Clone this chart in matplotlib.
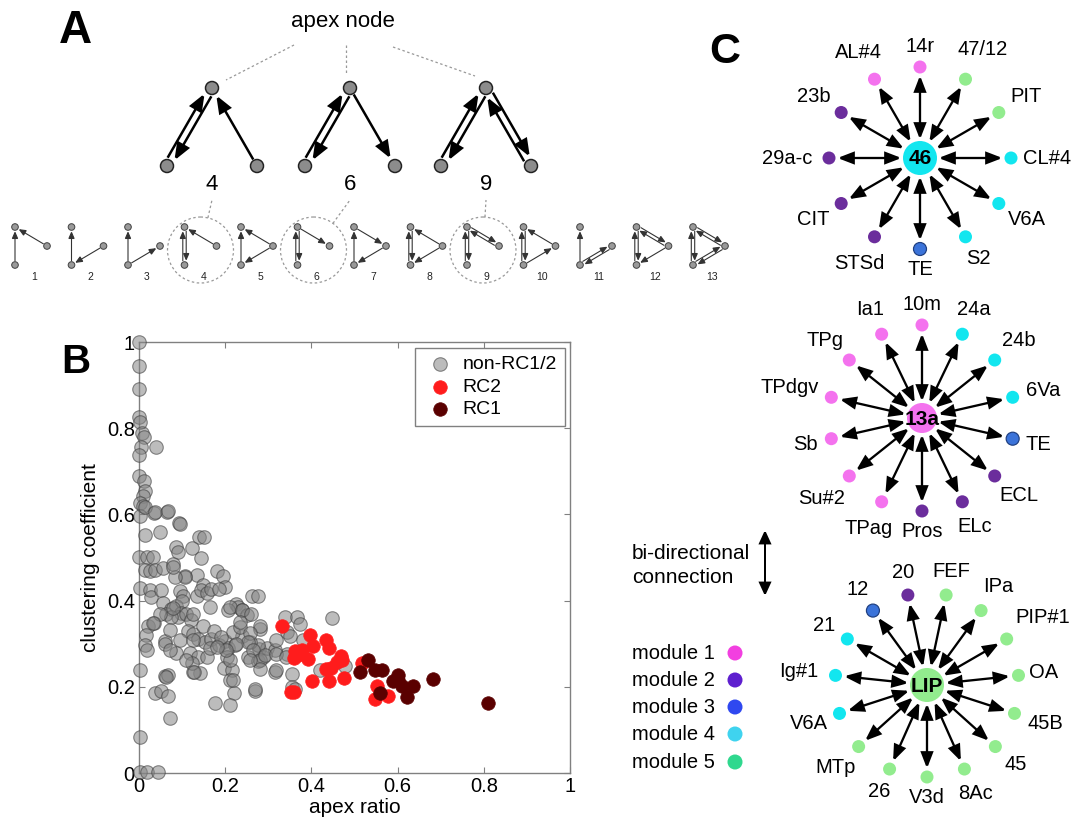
import numpy as np
import matplotlib
matplotlib.use('Agg')
import matplotlib.pyplot as plt
from matplotlib.patches import Circle, FancyArrowPatch, ArrowStyle

plt.rcParams['font.family'] = ['Liberation Sans', 'DejaVu Sans']

# ---------------- data: panel B ----------------
gray_x = [0, 0, 0, 0, 0.002, 0.007, 0.012, 0.005, 0.04, 0, 0, 0.012, 0.014, 0.01, 0.003, 0.01, 0.035, 0.066, 0.093, 0.003,
          0.014, 0.037, 0.068, 0.095, 0.049, 0.014, 0.14, 0.15, 0.087, 0.09, 0.122, 0.145, 0.0, 0.018, 0.033,
          0.014, 0.025, 0.037, 0.056, 0.08, 0.002, 0.025, 0.029, 0.052, 0.107, 0.134, 0.149, 0.18, 0.195, 0.2,
          0.095, 0.102, 0.056, 0.075, 0.085, 0.1, 0.097, 0.09, 0.11, 0.134, 0.145, 0.157, 0.168, 0.186, 0.165,
          0.12, 0.114, 0.126, 0.137, 0.152, 0.168, 0.149, 0.175, 0.063, 0.075, 0.02, 0.035, 0.017, 0.014, 0.061,
          0.072, 0.095, 0.126, 0.087, 0.118, 0.137, 0.141, 0.126, 0.122, 0.157, 0.165, 0.186, 0.2, 0.207, 0.223,
          0.238, 0.225, 0.229, 0.207, 0.24, 0.25, 0.263, 0.275, 0.204, 0.197, 0.216, 0.212, 0.22, 0.21, 0.176,
          0.254, 0.278, 0.277, 0.288, 0.296, 0.277, 0.258, 0.28, 0.316, 0.316, 0.269, 0.339, 0.366, 0.343, 0.35,
          0.343, 0.354, 0.354, 0.002, 0.061, 0.068, 0.037, 0.052, 0.068, 0.072, 0.002, 0.002, 0.018, 0.045,
          0.447, 0.42, 0.478, 0.38, 0.373, 0.218, 0.234, 0.21, 0.238, 0.234, 0.26, 0.28, 0.257, 0.253, 0.265,
          0.28, 0.292, 0.319, 0.319, 0.319, 0.342, 0.361, 0.218, 0.21, 0.268, 0.28, 0.257, 0.226, 0.11, 0.128,
          0.06, 0.071, 0.079, 0.048, 0.033, 0.018, 0.203, 0.19, 0.18, 0.106, 0.083, 0.125, 0.063, 0.079]
gray_y = [1.0, 0.945, 0.89, 0.825, 0.815, 0.788, 0.78, 0.757, 0.757, 0.738, 0.69, 0.677, 0.654, 0.643, 0.627, 0.62, 0.604, 0.606, 0.58, 0.597,
          0.618, 0.606, 0.609, 0.578, 0.56, 0.552, 0.548, 0.548, 0.525, 0.513, 0.521, 0.498, 0.502, 0.502, 0.502,
          0.471, 0.468, 0.471, 0.475, 0.486, 0.429, 0.425, 0.409, 0.424, 0.456, 0.46, 0.437, 0.468, 0.456, 0.432,
          0.422, 0.41, 0.395, 0.38, 0.388, 0.398, 0.372, 0.362, 0.37, 0.41, 0.425, 0.418, 0.428, 0.428, 0.386,
          0.355, 0.33, 0.322, 0.31, 0.305, 0.312, 0.34, 0.33, 0.37, 0.362, 0.34, 0.348, 0.32, 0.296, 0.307,
          0.332, 0.309, 0.309, 0.278, 0.278, 0.27, 0.232, 0.235, 0.255, 0.27, 0.289, 0.296, 0.307, 0.289, 0.296,
          0.319, 0.391, 0.384, 0.378, 0.378, 0.367, 0.41, 0.41, 0.27, 0.243, 0.239, 0.216, 0.185, 0.158, 0.162,
          0.27, 0.287, 0.259, 0.27, 0.289, 0.296, 0.304, 0.335, 0.285, 0.235, 0.19, 0.363, 0.363, 0.328, 0.317,
          0.275, 0.23, 0.2, 0.24, 0.224, 0.228, 0.186, 0.19, 0.178, 0.127, 0.084, 0.003, 0.003, 0.003,
          0.359, 0.239, 0.248, 0.308, 0.345, 0.327, 0.339, 0.386, 0.378, 0.351, 0.37, 0.34, 0.324, 0.305, 0.285,
          0.262, 0.273, 0.308, 0.277, 0.239, 0.27, 0.196, 0.215, 0.262, 0.196, 0.242, 0.262, 0.3, 0.262, 0.235,
          0.3, 0.285, 0.382, 0.37, 0.347, 0.285, 0.285, 0.316, 0.293, 0.455, 0.455, 0.37, 0.223, 0.478]
rc2_x = [0.331, 0.396, 0.404, 0.435, 0.441, 0.363, 0.37, 0.378, 0.36, 0.368, 0.391, 0.468, 0.47, 0.46, 0.445, 0.435,
         0.401, 0.44, 0.476, 0.352, 0.36, 0.517, 0.552, 0.548, 0.578]
rc2_y = [0.34, 0.32, 0.295, 0.309, 0.29, 0.284, 0.28, 0.285, 0.267, 0.273, 0.265, 0.272, 0.262, 0.257, 0.243, 0.242,
         0.214, 0.214, 0.22, 0.188, 0.188, 0.255, 0.202, 0.172, 0.179]
rc1_x = [0.531, 0.513, 0.548, 0.564, 0.601, 0.59, 0.61, 0.636, 0.622, 0.559, 0.682, 0.81, 0.6]
rc1_y = [0.262, 0.234, 0.239, 0.239, 0.227, 0.213, 0.202, 0.202, 0.177, 0.186, 0.218, 0.162, 0.216]
b_ticks = [0, 0.2, 0.4, 0.6, 0.8, 1]
b_ticklabels = ['0', '0.2', '0.4', '0.6', '0.8', '1']

# ---------------- data: panel A ----------------
motif_edges = {
    1: [('B', 'T'), ('R', 'T')],
    2: [('B', 'T'), ('R', 'B')],
    3: [('B', 'T'), ('B', 'R')],
    4: [('T', 'B'), ('B', 'T'), ('R', 'T')],
    5: [('B', 'T'), ('R', 'T'), ('R', 'B')],
    6: [('T', 'B'), ('B', 'T'), ('T', 'R')],
    7: [('B', 'T'), ('T', 'R'), ('R', 'B')],
    8: [('T', 'B'), ('B', 'T'), ('R', 'T'), ('R', 'B')],
    9: [('T', 'B'), ('B', 'T'), ('T', 'R'), ('R', 'T')],
    10: [('T', 'B'), ('B', 'T'), ('R', 'T'), ('B', 'R')],
    11: [('B', 'T'), ('B', 'R'), ('R', 'B')],
    12: [('T', 'B'), ('B', 'T'), ('T', 'R'), ('R', 'T'), ('R', 'B')],
    13: [('T', 'B'), ('B', 'T'), ('T', 'R'), ('R', 'T'), ('R', 'B'), ('B', 'R')],
}
apex_motifs = [4, 6, 9]
apex_edges = {
    4: [('A', 'L'), ('L', 'A'), ('R', 'A')],
    6: [('A', 'L'), ('L', 'A'), ('A', 'R')],
    9: [('A', 'L'), ('L', 'A'), ('A', 'R'), ('R', 'A')],
}

# ---------------- data: panel C ----------------
star_centers = ['46', '13a', 'LIP']
star_center_modules = [4, 1, 5]
star_labels = [
    ['14r', '47/12', 'PIT', 'CL#4', 'V6A', 'S2', 'TE', 'STSd', 'CIT', '29a-c', '23b', 'AL#4'],
    ['10m', '24a', '24b', '6Va', 'TE', 'ECL', 'ELc', 'Pros', 'TPag', 'Su#2', 'Sb', 'TPdgv', 'TPg', 'Ia1'],
    ['20', 'FEF', 'IPa', 'PIP#1', 'OA', '45B', '45', '8Ac', 'V3d', '26', 'MTp', 'V6A', 'Ig#1', '21', '12'],
]
star_modules = [
    [1, 5, 5, 4, 4, 4, 3, 2, 2, 2, 2, 1],
    [1, 4, 4, 4, 3, 2, 2, 2, 1, 1, 1, 1, 1, 1],
    [2, 5, 5, 5, 5, 5, 5, 5, 5, 5, 5, 4, 4, 4, 3],
]
module_names = ['module 1', 'module 2', 'module 3', 'module 4', 'module 5']

node_colors = {1: '#f472ee', 2: '#6b2d9c', 3: '#3b73d9', 4: '#12e6ef', 5: '#92ec8e'}
legend_colors = ['#f23fe0', '#5e1fcf', '#2f48f0', '#3fd3ef', '#2fd88e']

# ---------------- figure ----------------
W, H = 1076, 822
fig = plt.figure(figsize=(W / 100, H / 100), dpi=100)
ov = fig.add_axes([0, 0, 1, 1])
ov.set_xlim(0, W)
ov.set_ylim(H, 0)
ov.axis('off')
PT = 0.72


def arrow(p, q, style='-|>', lw=2.0, hl=12, hw=5, color='k', z=3):
    st = ArrowStyle(style, head_length=hl * PT, head_width=hw * PT)
    ov.add_patch(FancyArrowPatch(p, q, arrowstyle=st, mutation_scale=1, lw=lw * PT,
                                 color=color, shrinkA=0, shrinkB=0, zorder=z,
                                 joinstyle='miter', capstyle='butt'))


def node(c, r, fc, ec='none', lw=0, z=4):
    ov.add_patch(Circle(c, r, fc=fc, ec=ec, lw=lw * PT, zorder=z))


def draw_graph(pos, edges, r, lw, hl, hw, off, color, gap0=1.0, gap1=1.5):
    es = set(edges)
    for (u, v) in edges:
        P = np.array(pos[u], float)
        Q = np.array(pos[v], float)
        d = (Q - P) / np.linalg.norm(Q - P)
        o = np.array([d[1], -d[0]]) * (off if (v, u) in es else 0)
        arrow(P + d * (r + gap0) + o, Q - d * (r + gap1) + o, lw=lw, hl=hl, hw=hw, color=color)


# ---- Panel A ----
ov.text(75, 31, 'A', fontsize=33, fontweight='bold', ha='center', va='center')
ov.text(343, 21, 'apex node', fontsize=16, ha='center', va='center')

apex_x = [212, 350, 486]
apex_y, base_y, half = 88, 166, 45
for k, m in enumerate(apex_motifs):
    ax0 = apex_x[k]
    pos = {'A': (ax0, apex_y), 'L': (ax0 - half, base_y), 'R': (ax0 + half, base_y)}
    draw_graph(pos, apex_edges[m], 6.5, 2.5, 14, 5.5, 3.6, 'k', 1.0, 2.0)
    for p in pos.values():
        node(p, 6.5, '#8c8c8c', '#222222', 1.5)
    ov.text(ax0, 185, str(m), fontsize=16, ha='center', va='center')
# dashed lines from "apex node" text
for (p, q) in [((294, 45), (226, 80)), ((346, 45), (346, 73)), ((393, 47), (475, 76))]:
    ov.plot([p[0], q[0]], [p[1], q[1]], ls=(0, (2, 2)), color='#999999', lw=0.9)

sx0, sdx = 15, 56.5
for i, m in enumerate(range(1, 14)):
    x0 = sx0 + sdx * i
    pos = {'T': (x0, 227), 'B': (x0, 265), 'R': (x0 + 32, 246)}
    draw_graph(pos, motif_edges[m], 3.3, 1.1, 6, 2.6, 1.7, '#333333', 0.6, 0.8)
    for p in pos.values():
        node(p, 3.3, '#9a9a9a', '#444444', 1.0)
    ov.text(x0 + 19, 277, str(m), fontsize=7.5, ha='center', va='center', color='#222222')
    if m in apex_motifs:
        c = np.array([x0 + 16, 250.0])
        ov.add_patch(Circle(c, 33, fill=False, ec='#999999', lw=0.9, ls=(0, (2, 2))))
        tx = apex_x[apex_motifs.index(m)]
        tgt = np.array([tx, 200.0])
        dd = (tgt - c) / np.linalg.norm(tgt - c)
        st = c + dd * 33
        ov.plot([st[0], tgt[0]], [st[1], tgt[1]], ls=(0, (2, 2)), color='#999999', lw=0.9)

# ---- Panel C ----
ov.text(725, 52, 'C', fontsize=31, fontweight='bold', ha='center', va='center')
star_xy = [(920, 158), (922, 418), (927, 685)]
star_r = [91, 93, 92]
star_start = [90, 90, 102]
star_cr = [17, 15, 17]
fs_lab = 14.5
for s in range(3):
    cx, cy = star_xy[s]
    n = len(star_labels[s])
    step = 360.0 / n
    for j, (lab, mod) in enumerate(zip(star_labels[s], star_modules[s])):
        a = np.deg2rad(star_start[s] - step * j)
        u = np.array([np.cos(a), -np.sin(a)])
        c = np.array([cx, cy], float)
        p = c + u * star_r[s]
        arrow(c + u * (star_cr[s] + 1.5), c + u * (star_r[s] - 8.5), style='<|-|>',
              lw=2.3, hl=13, hw=5, color='k', z=3)
        if mod == 3:
            node(p, 6.5, node_colors[mod], '#1f3f80', 1.2)
        else:
            node(p, 6.5, node_colors[mod])
        tw = len(lab) * 0.58 * fs_lab / PT
        th = fs_lab / PT * 0.75
        lr = star_r[s] + 13 + 0.5 * tw * abs(u[0]) + 0.5 * th * abs(u[1])
        lp = c + u * lr
        ov.text(lp[0], lp[1], lab, fontsize=fs_lab, ha='center', va='center')
    node((cx, cy), star_cr[s], node_colors[star_center_modules[s]], z=5)
    ov.text(cx, cy + 1, star_centers[s], fontsize=15, fontweight='bold', ha='center', va='center', zorder=6)

# bi-directional legend
ov.text(632, 553, 'bi-directional', fontsize=15, ha='left', va='center')
ov.text(632, 577, 'connection', fontsize=15, ha='left', va='center')
arrow((765, 530), (765, 596), style='<|-|>', lw=2.0, hl=11, hw=5, color='k')

# module legend
mod_y = [653, 680, 707, 734, 762]
for name, col, yy in zip(module_names, legend_colors, mod_y):
    ov.text(632, yy, name, fontsize=14.5, ha='left', va='center')
    node((735, yy), 7.5, col)

# ---- Panel B ----
ov.text(76, 362, 'B', fontsize=29, fontweight='bold', ha='center', va='center')
axB = fig.add_axes([139 / W, (H - 773) / H, 431 / W, 431 / H])
axB.scatter(gray_x, gray_y, s=95, facecolor=(0.52, 0.52, 0.52, 0.55),
            edgecolor=(0.25, 0.25, 0.25, 0.6), linewidth=0.8, clip_on=False, zorder=3, label='non-RC1/2')
axB.scatter(rc2_x, rc2_y, s=95, facecolor='#ff1c1c', edgecolor='#ff1c1c', linewidth=0.5,
            clip_on=False, zorder=4, label='RC2')
axB.scatter(rc1_x, rc1_y, s=95, facecolor='#5a0000', edgecolor='#5a0000', linewidth=0.5,
            clip_on=False, zorder=5, label='RC1')
axB.set_xlim(0, 1)
axB.set_ylim(0, 1)
axB.set_xticks(b_ticks)
axB.set_xticklabels(b_ticklabels)
axB.set_yticks(b_ticks)
axB.set_yticklabels(b_ticklabels)
axB.tick_params(direction='in', length=4, color='#808080', top=True, right=True,
                labelsize=14.5, pad=3)
for sp in axB.spines.values():
    sp.set_color('#808080')
    sp.set_linewidth(1.0)
axB.set_xlabel('apex ratio', fontsize=15, labelpad=1)
axB.set_ylabel('clustering coefficient', fontsize=15, labelpad=5)
leg = axB.legend(loc='upper right', bbox_to_anchor=(0.988, 0.986), borderaxespad=0,
                 fontsize=14, frameon=True, fancybox=False, framealpha=1,
                 handlelength=1.8, handletextpad=0.25, borderpad=0.4, labelspacing=0.25)
leg.get_frame().set_edgecolor('#808080')
leg.get_frame().set_linewidth(1.0)
leg.set_zorder(10)

fig.savefig('out.png', dpi=100)
